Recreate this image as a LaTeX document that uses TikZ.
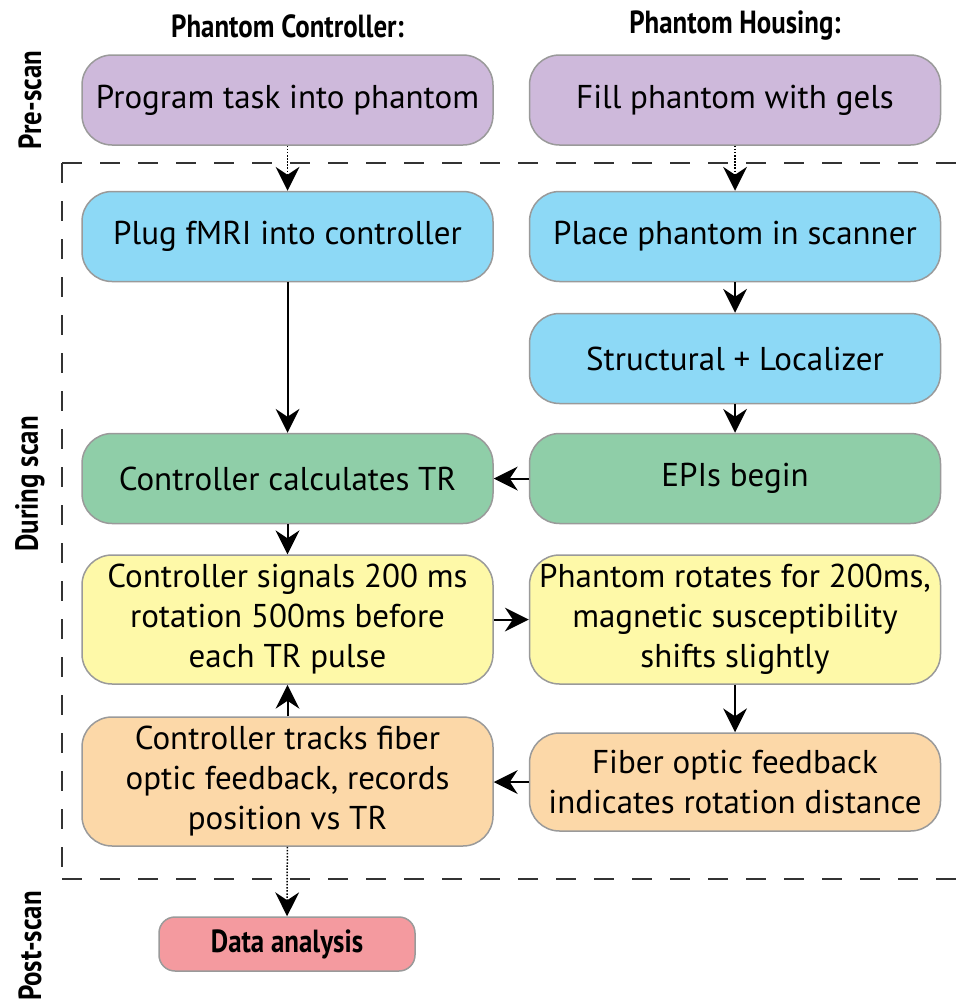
\documentclass[tikz,border=0pt]{standalone}
\usepackage{fontspec}
\setmainfont{PT Sans}
\newfontfamily\headfont[FakeStretch=0.84]{PT Sans}
\usetikzlibrary{arrows.meta}
\definecolor{cPre}{HTML}{CEB9DB}
\definecolor{cBlue}{HTML}{8DD9F6}
\definecolor{cGreen}{HTML}{8FCEA8}
\definecolor{cYellow}{HTML}{FEF9A8}
\definecolor{cOrange}{HTML}{FCD8A8}
\definecolor{cPink}{HTML}{F49A9F}
\definecolor{cEdge}{HTML}{9A9A9A}
\definecolor{cFrame}{HTML}{333333}
\tikzset{
  box/.style={draw=cEdge, line width=1.5pt, rounded corners=30pt, inner sep=0pt,
    minimum width=411pt, minimum height=90pt, align=center,
    font=\fontsize{33}{40}\selectfont},
  boldcond/.style={font=\headfont\bfseries\fontsize{32}{36}\selectfont},
  head/.style={boldcond},
  side/.style={rotate=90, boldcond},
  bigtip/.style={arrows={-Stealth[length=24pt, width=24pt, inset=8pt, line width=0pt]}},
  conn/.style={draw=black, line width=2pt, bigtip},
  dotconn/.style={draw=black, line width=1.5pt, dash pattern=on 1.5pt off 1.6pt, bigtip},
  frame/.style={draw=cFrame, line width=1.8pt, dash pattern=on 20pt off 18pt}
}
\begin{document}
\begin{tikzpicture}[x=1pt,y=-1pt]
\useasboundingbox (0,0) rectangle (957,1004);

% column headings
\node[head] (hc) at (287.5,26) {Phantom Controller:};
\node[head] (hh) at (735,26) {Phantom Housing:};

% stage labels
\node[side] (lpre) at (30,100) {Pre-scan};
\node[side] (ldur) at (30,484) {During scan};
\node[side] (lpost) at (30,946) {Post-scan};

% during-scan frame
\coordinate (ftl) at (62,163);
\coordinate (fbl) at (62,879);
\coordinate (ftr) at (962,163);
\coordinate (fbr) at (962,879);
\draw[frame] (ftl) -- (ftr);
\draw[frame] (ftl) -- (fbl);
\draw[frame] (fbl) -- (fbr);

% steps
\node[box, fill=cPre] (prog) at (287.5,100) {Program task into phantom};
\node[box, fill=cPre] (gels) at (735,100) {Fill phantom with gels};
\node[box, fill=cBlue] (plug) at (287.5,236.5) {Plug fMRI into controller};
\node[box, fill=cBlue] (place) at (735,236.5) {Place phantom in scanner};
\node[box, fill=cBlue] (struct) at (735,358.5) {Structural + Localizer};
\node[box, fill=cGreen] (calc) at (287.5,478.5) {Controller calculates TR};
\node[box, fill=cGreen] (epi) at (735,478.5) {EPIs begin};
\node[box, fill=cYellow, minimum height=129pt] (sig) at (287.5,619.5)
  {Controller signals 200 ms\\rotation 500ms before\\each TR pulse};
\node[box, fill=cYellow, minimum height=129pt] (rot) at (735,619.5)
  {Phantom rotates for 200ms,\\magnetic susceptibility\\shifts slightly};
\node[box, fill=cOrange, minimum height=129pt] (track) at (287.5,781.5)
  {Controller tracks fiber\\optic feedback, records\\position vs TR};
\node[box, fill=cOrange, minimum height=98pt] (fiber) at (735,782)
  {Fiber optic feedback\\indicates rotation distance};
\node[box, fill=cPink, minimum width=256pt, minimum height=54pt, rounded corners=16pt,
  boldcond] (data) at (287,944) {Data analysis};

% connectors
\draw[dotconn] (prog) -- (plug);
\draw[dotconn] (gels) -- (place);
\draw[conn] (place) -- (struct);
\draw[conn] (struct) -- (epi);
\draw[conn] (plug) -- (calc);
\draw[conn] (epi) -- (calc);
\draw[conn] (calc) -- (sig);
\draw[conn] (sig) -- (rot);
\draw[conn] (rot) -- (fiber);
\draw[conn] (fiber.west) -- (fiber.west -| track.east);
\draw[conn] (track) -- (sig);
\draw[dotconn] (track) -- (data);
\end{tikzpicture}
\end{document}
